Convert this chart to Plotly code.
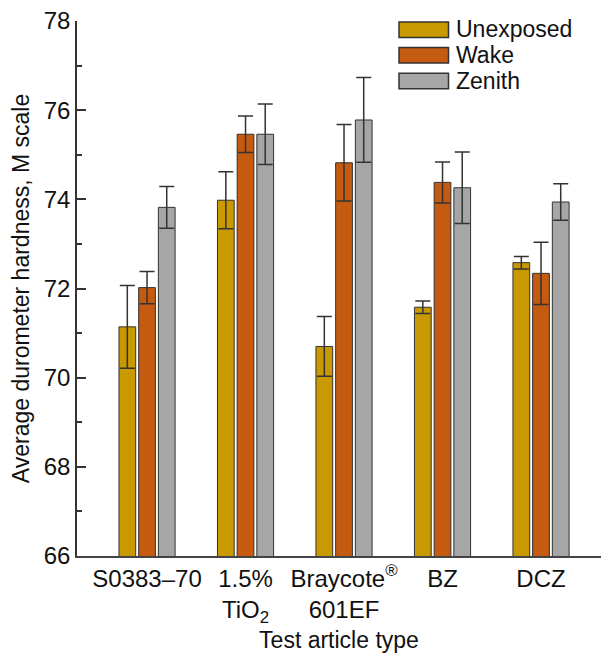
import plotly.graph_objects as go

# Test article categories (x axis)
categories = ["S0383\u201370", "1.5%<br>TiO<sub>2</sub>", "Braycote<sup>\u00ae</sup><br>601EF", "BZ", "DCZ"]

# Average durometer hardness (M scale) and standard deviations per exposure
unexposed = [71.14, 73.98, 70.70, 71.58, 72.58]
unexposed_err = [0.93, 0.64, 0.67, 0.14, 0.14]
wake = [72.02, 75.46, 74.82, 74.38, 72.34]
wake_err = [0.36, 0.41, 0.86, 0.46, 0.70]
zenith = [73.82, 75.46, 75.78, 74.26, 73.94]
zenith_err = [0.47, 0.68, 0.95, 0.80, 0.41]

series = [
    ("Unexposed", unexposed, unexposed_err, "#C89900", -0.2),
    ("Wake", wake, wake_err, "#C55A11", 0.0),
    ("Zenith", zenith, zenith_err, "#A6A6A6", 0.2),
]

FONT = "Liberation Sans, Arial, sans-serif"
W, H = 601, 653
ML, MR, MT, MB = 77, 0, 21, 95

fig = go.Figure()
for name, vals, errs, color, off in series:
    fig.add_trace(go.Bar(
        name=name,
        x=[i + off for i in range(len(categories))],
        y=vals,
        width=0.17,
        marker=dict(color=color, line=dict(color="#333333", width=1)),
        error_y=dict(type="data", array=errs, visible=True,
                     color="#333333", thickness=1.5, width=7.5),
        showlegend=False,
    ))

fig.update_layout(
    width=W, height=H,
    margin=dict(l=ML, r=MR, t=MT, b=MB),
    paper_bgcolor="white", plot_bgcolor="white",
    font=dict(family=FONT, size=23, color="#111111"),
    barmode="overlay",
)

fig.update_xaxes(
    range=[-0.711, 4.609],
    tickvals=list(range(len(categories))),
    ticktext=categories,
    ticks="",
    showgrid=False, zeroline=False,
    showline=True, linecolor="#444444", linewidth=1.5,
    title=dict(text="Test article type", standoff=10, font=dict(size=23)),
    tickfont=dict(size=24),
)
fig.update_yaxes(
    range=[66, 78],
    dtick=2,
    ticks="inside", ticklen=9, tickcolor="#333333", tickwidth=1.5,
    minor=dict(ticks="inside", ticklen=5, dtick=1, tickcolor="#333333", tickwidth=1.5),
    showgrid=False, zeroline=False,
    showline=True, linecolor="#333333", linewidth=1.5,
    title=dict(text="Average durometer hardness, M scale", standoff=8, font=dict(size=23)),
    tickfont=dict(size=24),
)

# Legend drawn as boxes with labels in the upper right of the plot
pw = W - ML - MR
ph = H - MT - MB


def px_x(x):
    return (x - ML) / pw


def px_y(y):
    return (H - MB - y) / ph


for k, (name, vals, errs, color, off) in enumerate(series):
    top = 22 + 25.7 * k
    fig.add_shape(type="rect", xref="paper", yref="paper",
                  x0=px_x(399), x1=px_x(448.5), y0=px_y(top + 15.5), y1=px_y(top),
                  fillcolor=color, line=dict(color="#333333", width=1.5))
    fig.add_annotation(xref="paper", yref="paper", x=px_x(454), y=px_y(top + 7.5),
                       text=name, showarrow=False, xanchor="left", yanchor="middle",
                       font=dict(size=23, family=FONT, color="#111111"))

fig.write_html("out.html")
